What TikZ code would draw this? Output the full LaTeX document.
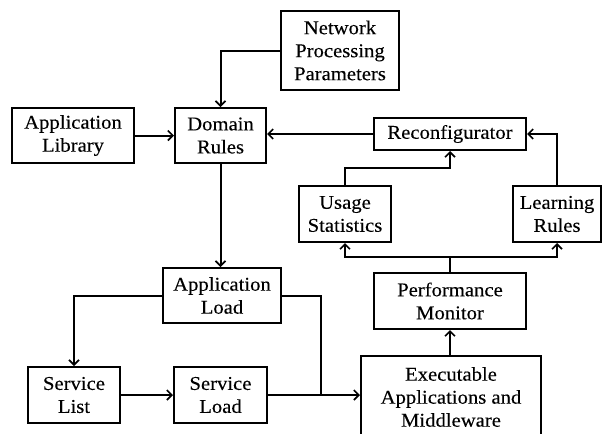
\documentclass[tikz,border=0pt]{standalone}
\usepackage{fontspec}
\setmainfont{Liberation Serif}[FakeStretch=1.06,FakeBold=0.2]
\usetikzlibrary{arrows.meta}
\begin{document}
\begin{tikzpicture}[x=1pt,y=-1pt,
  box/.style={draw, line width=2pt, inner sep=0pt, align=center,
    font=\fontsize{19.5}{23}\selectfont},
  link/.style={line width=2pt},
  arr/.style={link, -{Straight Barb[length=5pt,width=10pt,line width=1.6pt]}}]
\useasboundingbox (0,0) rectangle (603,434);

% boxes
\node[box, minimum width=118pt, minimum height=79pt] (npp) at (340,50.5) {Network\\Processing\\Parameters};
\node[box, minimum width=122pt, minimum height=55pt] (alib) at (73,135.5) {Application\\Library};
\node[box, minimum width=91pt, minimum height=55pt] (dom) at (220.5,135.5) {Domain\\Rules};
\node[box, minimum width=152pt, minimum height=32pt] (reco) at (450,134) {Reconfigurator};
\node[box, minimum width=92pt, minimum height=56pt] (usage) at (345,214) {Usage\\Statistics};
\node[box, minimum width=88pt, minimum height=56pt] (learn) at (557,214) {Learning\\Rules};
\node[box, minimum width=152pt, minimum height=56pt] (perf) at (450,301) {Performance\\Monitor};
\node[box, minimum width=180pt, minimum height=82pt] (exec) at (451,397) {Executable\\Applications and\\Middleware};
\node[box, minimum width=118pt, minimum height=55pt] (aload) at (222,295.5) {Application\\Load};
\node[box, minimum width=92pt, minimum height=56pt] (slist) at (74,395) {Service\\List};
\node[box, minimum width=93pt, minimum height=56pt] (sload) at (220.5,395) {Service\\Load};

% bend and junction points
\coordinate (ubend) at (345,168);
\coordinate (split) at (450,257);
\coordinate (merge) at (321,395);

% connectors
\draw[arr] (npp.west) -| (dom.north);
\draw[arr] (alib.east) -- (dom.west);
\draw[arr] (reco.west) -- (reco.west -| dom.east);
\draw[arr] (usage.north) -- (usage.north |- ubend) -| (reco.south);
\draw[arr] (learn.north) |- (reco.east);
\draw[link] (perf.north) -- (split);
\draw[arr] (split) -| (usage.south);
\draw[arr] (split) -| (learn.south);
\draw[arr] (perf.south |- exec.north) -- (perf.south);
\draw[arr] (dom.south) -- (dom.south |- aload.north);
\draw[arr] (aload.west) -| (slist.north);
\draw[link] (aload.east) -| (merge);
\draw[arr] (slist.east) -- (sload.west);
\draw[arr] (sload.east) -- (merge -| exec.west);
\end{tikzpicture}
\end{document}
